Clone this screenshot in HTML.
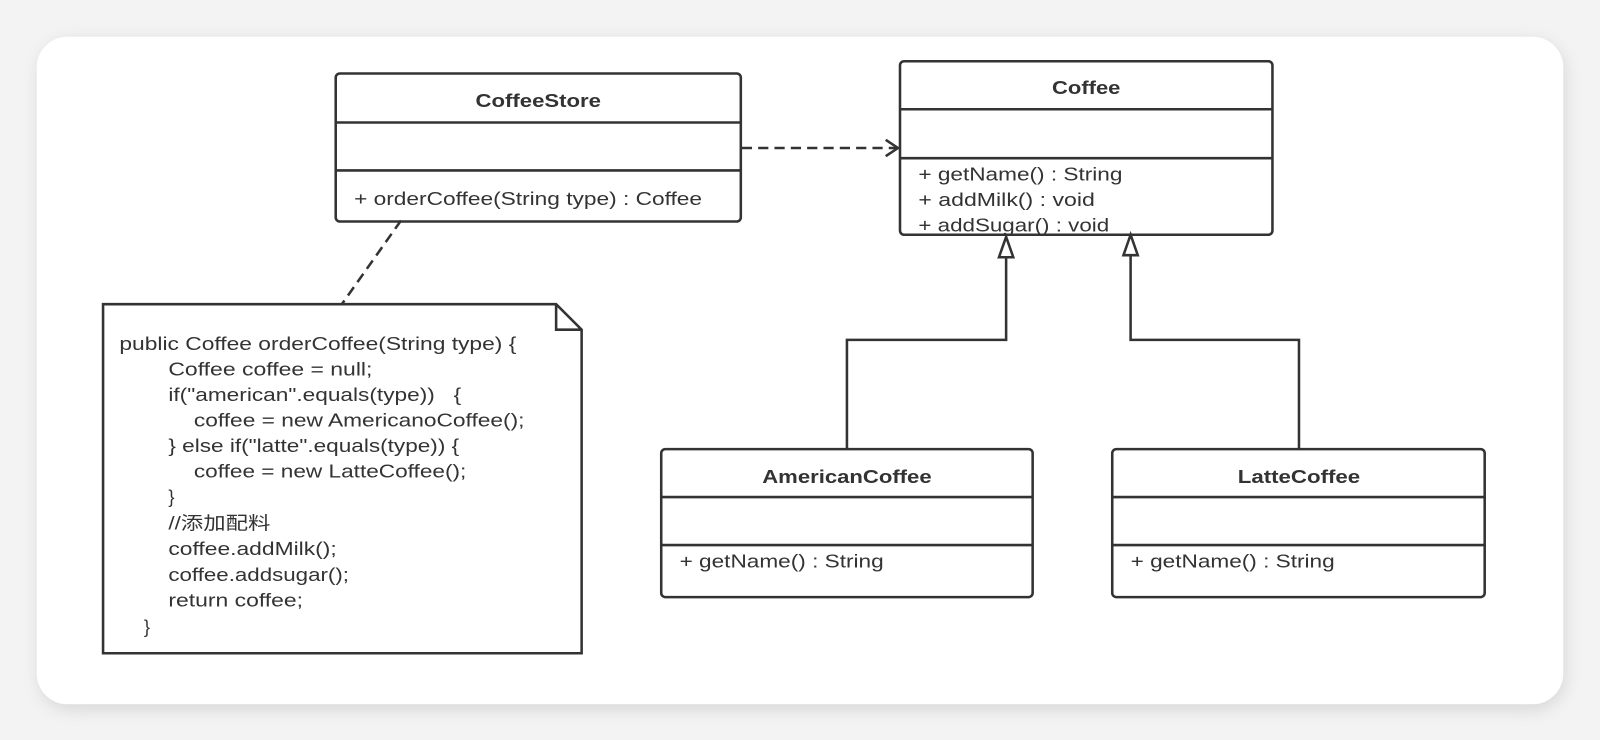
<!DOCTYPE html>
<html><head><meta charset="utf-8"><style>
html,body{margin:0;padding:0;background:#f3f3f3;}
svg{display:block;}
text{font-family:"Liberation Sans","Noto Sans CJK SC",sans-serif;fill:#333;}
</style></head><body>
<svg width="1600" height="740" viewBox="0 0 1568 725" preserveAspectRatio="none" xmlns="http://www.w3.org/2000/svg">
<defs>
<filter id="sh" x="-5%" y="-5%" width="110%" height="115%"><feGaussianBlur stdDeviation="8"/></filter>
</defs>
<rect width="1568" height="725" fill="#f3f3f3"/>
<rect x="38" y="40" width="1496" height="656" rx="32" fill="#d8d8d8" filter="url(#sh)"/>
<rect x="36" y="36" width="1496" height="654" rx="30" fill="#fff"/>
<g stroke="#333" stroke-width="2.5" fill="none">
<rect x="329" y="72" width="397" height="145" rx="4" fill="#fff"/>
<line x1="329" y1="120" x2="726" y2="120"/><line x1="329" y1="167" x2="726" y2="167"/>
<rect x="882" y="60" width="365" height="170" rx="4" fill="#fff"/>
<line x1="882" y1="107" x2="1247" y2="107"/><line x1="882" y1="155" x2="1247" y2="155"/>
<rect x="648" y="440" width="364" height="145" rx="4" fill="#fff"/>
<line x1="648" y1="487" x2="1012" y2="487"/><line x1="648" y1="534" x2="1012" y2="534"/>
<rect x="1090" y="440" width="365" height="145" rx="4" fill="#fff"/>
<line x1="1090" y1="487" x2="1455" y2="487"/><line x1="1090" y1="534" x2="1455" y2="534"/>
<line x1="727" y1="145" x2="878" y2="145" stroke-dasharray="10,6"/>
<polyline points="868,137 880,145 868,153"/>
<polyline points="830,440 830,333 986,333 986,252"/>
<polygon points="986,232 979,252 993,252" fill="#fff"/>
<polyline points="1273,440 1273,333 1108,333 1108,250"/>
<polygon points="1108,230 1101,250 1115,250" fill="#fff"/>
<line x1="393" y1="216" x2="335" y2="298" stroke-dasharray="10,6"/>
<polygon points="101,298 545,298 570,323 570,640 101,640" fill="#fff"/>
<polyline points="545,298 545,323 570,323"/>
</g>
<g font-size="18" lengthAdjust="spacingAndGlyphs">
<text x="466" y="105" font-weight="bold" textLength="123" lengthAdjust="spacingAndGlyphs">CoffeeStore</text>
<text x="347" y="201" textLength="341" lengthAdjust="spacingAndGlyphs">+ orderCoffee(String type) : Coffee</text>
<text x="1031" y="92" font-weight="bold" textLength="67" lengthAdjust="spacingAndGlyphs">Coffee</text>
<text x="900" y="177" textLength="200" lengthAdjust="spacingAndGlyphs">+ getName() : String</text>
<text x="900" y="202" textLength="173" lengthAdjust="spacingAndGlyphs">+ addMilk() : void</text>
<text x="900" y="227" textLength="187" lengthAdjust="spacingAndGlyphs">+ addSugar() : void</text>
<text x="747" y="473" font-weight="bold" textLength="166" lengthAdjust="spacingAndGlyphs">AmericanCoffee</text>
<text x="666" y="556" textLength="200" lengthAdjust="spacingAndGlyphs">+ getName() : String</text>
<text x="1213" y="473" font-weight="bold" textLength="120" lengthAdjust="spacingAndGlyphs">LatteCoffee</text>
<text x="1108" y="556" textLength="200" lengthAdjust="spacingAndGlyphs">+ getName() : String</text>
</g>
<g font-size="18">
<text x="117" y="343" textLength="389" lengthAdjust="spacingAndGlyphs">public Coffee orderCoffee(String type) {</text>
<text x="165" y="368" textLength="200" lengthAdjust="spacingAndGlyphs">Coffee coffee = null;</text>
<text x="165" y="393" textLength="287" lengthAdjust="spacingAndGlyphs">if("american".equals(type))&#160;&#160;&#160;{</text>
<text x="190" y="418" textLength="324" lengthAdjust="spacingAndGlyphs">coffee = new AmericanoCoffee();</text>
<text x="165" y="443" textLength="285" lengthAdjust="spacingAndGlyphs">} else if("latte".equals(type)) {</text>
<text x="190" y="468" textLength="267" lengthAdjust="spacingAndGlyphs">coffee = new LatteCoffee();</text>
<text x="165" y="493">}</text>
<text x="165" y="519" textLength="100" lengthAdjust="spacingAndGlyphs">//添加配料</text>
<text x="165" y="544" textLength="165" lengthAdjust="spacingAndGlyphs">coffee.addMilk();</text>
<text x="165" y="569" textLength="177" lengthAdjust="spacingAndGlyphs">coffee.addsugar();</text>
<text x="165" y="594" textLength="132" lengthAdjust="spacingAndGlyphs">return coffee;</text>
<text x="141" y="620">}</text>
</g>
</svg>
</body></html>
